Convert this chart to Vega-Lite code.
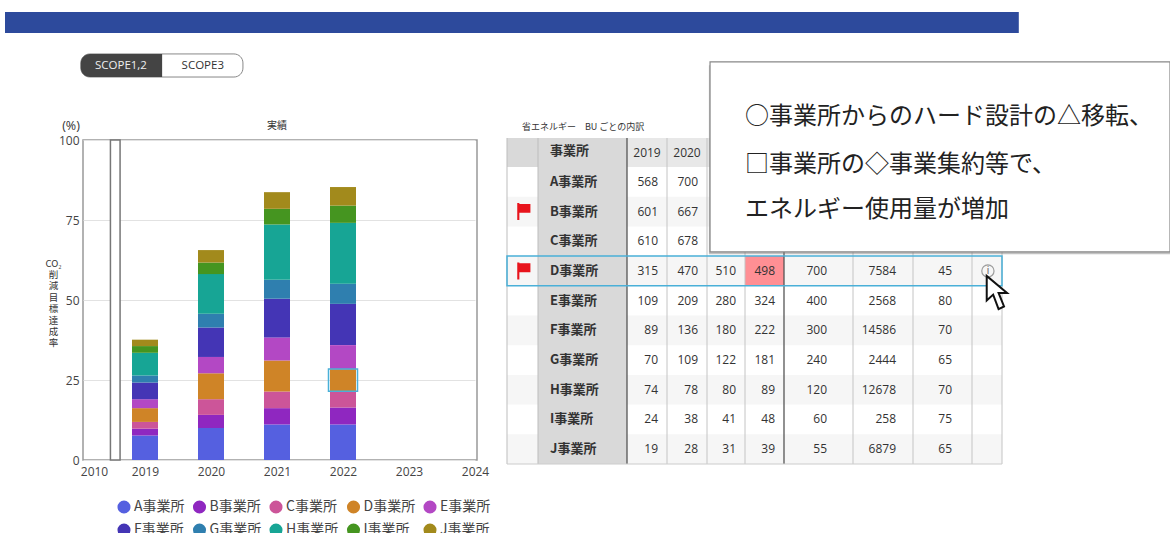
{
"$schema":"https://vega.github.io/schema/vega-lite/v6.json",
"padding":{"left":5,"top":12,"right":0,"bottom":0},
"autosize":{"type":"pad"},
"background":"white",
"bounds":"flush",
"spacing":30,
"config":{"font":"Noto Sans CJK JP","style":{"cell":{"stroke":null}}},
"datasets":{
"bars":[
{"year":2019,"office":"A事業所","value":7.65},{"year":2019,"office":"B事業所","value":2.15},{"year":2019,"office":"C事業所","value":2.1},{"year":2019,"office":"D事業所","value":4.3},{"year":2019,"office":"E事業所","value":2.8},{"year":2019,"office":"F事業所","value":5.2},{"year":2019,"office":"G事業所","value":2.2},{"year":2019,"office":"H事業所","value":7.1},{"year":2019,"office":"I事業所","value":2.1},{"year":2019,"office":"J事業所","value":2.0},
{"year":2020,"office":"A事業所","value":10},{"year":2020,"office":"B事業所","value":4.1},{"year":2020,"office":"C事業所","value":4.9},{"year":2020,"office":"D事業所","value":8.1},{"year":2020,"office":"E事業所","value":5.1},{"year":2020,"office":"F事業所","value":9.2},{"year":2020,"office":"G事業所","value":4.3},{"year":2020,"office":"H事業所","value":12.4},{"year":2020,"office":"I事業所","value":3.6},{"year":2020,"office":"J事業所","value":3.9},
{"year":2021,"office":"A事業所","value":11.1},{"year":2021,"office":"B事業所","value":5.1},{"year":2021,"office":"C事業所","value":5.2},{"year":2021,"office":"D事業所","value":9.7},{"year":2021,"office":"E事業所","value":7.2},{"year":2021,"office":"F事業所","value":12.1},{"year":2021,"office":"G事業所","value":5.9},{"year":2021,"office":"H事業所","value":17.3},{"year":2021,"office":"I事業所","value":4.9},{"year":2021,"office":"J事業所","value":5.2},
{"year":2022,"office":"A事業所","value":11.1},{"year":2022,"office":"B事業所","value":5.3},{"year":2022,"office":"C事業所","value":5.0},{"year":2022,"office":"D事業所","value":7.0},{"year":2022,"office":"E事業所","value":7.5},{"year":2022,"office":"F事業所","value":12.9},{"year":2022,"office":"G事業所","value":6.3},{"year":2022,"office":"H事業所","value":19.0},{"year":2022,"office":"I事業所","value":5.4},{"year":2022,"office":"J事業所","value":5.8}
],
"offices":[
{"office":"A事業所","rowNo":1},{"office":"B事業所","rowNo":2},{"office":"C事業所","rowNo":3},{"office":"D事業所","rowNo":4},{"office":"E事業所","rowNo":5},{"office":"F事業所","rowNo":6},{"office":"G事業所","rowNo":7},{"office":"H事業所","rowNo":8},{"office":"I事業所","rowNo":9},{"office":"J事業所","rowNo":10}
],
"cells":[
{"rowNo":1,"colNo":2,"value":568},{"rowNo":1,"colNo":3,"value":700},
{"rowNo":2,"colNo":2,"value":601},{"rowNo":2,"colNo":3,"value":667},
{"rowNo":3,"colNo":2,"value":610},{"rowNo":3,"colNo":3,"value":678},
{"rowNo":4,"colNo":2,"value":315},{"rowNo":4,"colNo":3,"value":470},{"rowNo":4,"colNo":4,"value":510},{"rowNo":4,"colNo":5,"value":498},{"rowNo":4,"colNo":6,"value":700},{"rowNo":4,"colNo":7,"value":7584},{"rowNo":4,"colNo":8,"value":45},
{"rowNo":5,"colNo":2,"value":109},{"rowNo":5,"colNo":3,"value":209},{"rowNo":5,"colNo":4,"value":280},{"rowNo":5,"colNo":5,"value":324},{"rowNo":5,"colNo":6,"value":400},{"rowNo":5,"colNo":7,"value":2568},{"rowNo":5,"colNo":8,"value":80},
{"rowNo":6,"colNo":2,"value":89},{"rowNo":6,"colNo":3,"value":136},{"rowNo":6,"colNo":4,"value":180},{"rowNo":6,"colNo":5,"value":222},{"rowNo":6,"colNo":6,"value":300},{"rowNo":6,"colNo":7,"value":14586},{"rowNo":6,"colNo":8,"value":70},
{"rowNo":7,"colNo":2,"value":70},{"rowNo":7,"colNo":3,"value":109},{"rowNo":7,"colNo":4,"value":122},{"rowNo":7,"colNo":5,"value":181},{"rowNo":7,"colNo":6,"value":240},{"rowNo":7,"colNo":7,"value":2444},{"rowNo":7,"colNo":8,"value":65},
{"rowNo":8,"colNo":2,"value":74},{"rowNo":8,"colNo":3,"value":78},{"rowNo":8,"colNo":4,"value":80},{"rowNo":8,"colNo":5,"value":89},{"rowNo":8,"colNo":6,"value":120},{"rowNo":8,"colNo":7,"value":12678},{"rowNo":8,"colNo":8,"value":70},
{"rowNo":9,"colNo":2,"value":24},{"rowNo":9,"colNo":3,"value":38},{"rowNo":9,"colNo":4,"value":41},{"rowNo":9,"colNo":5,"value":48},{"rowNo":9,"colNo":6,"value":60},{"rowNo":9,"colNo":7,"value":258},{"rowNo":9,"colNo":8,"value":75},
{"rowNo":10,"colNo":2,"value":19},{"rowNo":10,"colNo":3,"value":28},{"rowNo":10,"colNo":4,"value":31},{"rowNo":10,"colNo":5,"value":39},{"rowNo":10,"colNo":6,"value":55},{"rowNo":10,"colNo":7,"value":6879},{"rowNo":10,"colNo":8,"value":65}
]
},
"hconcat":[
{
"width":394,"height":320,
"view":{"stroke":"#999999","strokeWidth":1.5},
"layer":[
{"data":{"name":"bars"},
"mark":{"type":"bar","size":26,"orient":"vertical"},
"encoding":{
"x":{"field":"year","type":"quantitative","scale":{"domain":[2008,2010,2019,2024],"range":[0,11,62,392],"nice":false,"zero":false,"padding":0},
"axis":{"values":[2010,2019,2020,2021,2022,2023,2024],"format":"d","title":null,"grid":false,"ticks":false,"domain":false,"labelFlush":false,"labelOverlap":false,"labelFont":"Open Sans","labelFontSize":12,"labelColor":"#444444","labelPadding":6}},
"y":{"field":"value","type":"quantitative","stack":"zero","scale":{"domain":[0,100],"nice":false},
"axis":{"values":[0,25,50,75,100],"gridColor":"#e2e2e2","ticks":false,"domain":false,"labelFont":"Open Sans","labelFontSize":12,"labelColor":"#444444","labelPadding":4,
"title":["CO₂","削","減","目","標","達","成","率"],"titleAngle":0,"titleFontSize":9.5,"titleFontWeight":"normal","titleColor":"#333333","titleX":-30,"titleY":118,"titleAlign":"center","titleBaseline":"top","titleLineHeight":11.4}},
"color":{"field":"office","type":"nominal","scale":{"domain":["A事業所","B事業所","C事業所","D事業所","E事業所","F事業所","G事業所","H事業所","I事業所","J事業所"],"range":["#5560E0","#8F27C0","#CC5599","#CF8427","#B348C4","#4435B5","#2F7FAF","#17A595","#459520","#A28A1C"]},
"legend":{"title":null,"orient":"none","legendX":34,"legendY":360,"columns":5,"direction":"horizontal","symbolType":"circle","symbolSize":170,"symbolStrokeWidth":0,"labelFontSize":14,"labelColor":"#444444","labelOffset":3,"columnPadding":7.5,"rowPadding":9,"labelLimit":80,"symbolOpacity":1}},
"order":{"field":"office"}
}},
{"data":{"values":[{}]},"mark":{"type":"rect","fill":"white","stroke":"#777777","strokeWidth":1.5},
"encoding":{"x":{"datum":2012.9,"type":"quantitative"},"x2":{"datum":2014.6},"y":{"datum":0,"type":"quantitative"},"y2":{"datum":100}}},
{"data":{"values":[{}]},"mark":{"type":"bar","size":29,"orient":"vertical","fillOpacity":0,"stroke":"#4AB0D8","strokeWidth":1.5},
"encoding":{"x":{"datum":2022,"type":"quantitative"},"y":{"datum":21.5,"type":"quantitative"},"y2":{"datum":28.4}}},
{"data":{"values":[{"t":"(%)"}]},"mark":{"type":"text","fontSize":12.5,"color":"#333333","dx":-23,"dy":-14,"font":"Open Sans"},
"encoding":{"x":{"datum":2010,"type":"quantitative"},"y":{"datum":100,"type":"quantitative"},"text":{"field":"t"}}},
{"data":{"values":[{"t":"実績"}]},"mark":{"type":"text","fontSize":10,"color":"#333333","dy":-14},
"encoding":{"x":{"datum":2021,"type":"quantitative"},"y":{"datum":100,"type":"quantitative"},"text":{"field":"t"}}}
]
},
{
"width":394,"height":320,
"layer":[
{"data":{"name":"offices"},"transform":[{"filter":"datum.rowNo % 2 == 0"},{"calculate":"datum.rowNo-0.5","as":"top"},{"calculate":"datum.rowNo+0.5","as":"bottom"}],
"mark":{"type":"rect","fill":"#f6f6f6"},
"encoding":{"x":{"datum":0,"type":"quantitative","axis":null,"scale":{"domain":[-1,0,1,2,3,4,5,6,7,8,9,10,11],"range":[-502,0,31,120,160,200,238,277,346,406,465,495,663],"nice":false,"zero":false}},"x2":{"datum":10},
"y":{"field":"top","type":"quantitative","axis":null,"scale":{"domain":[-6,-0.5,0.5,10.5],"range":[-140,-2,27,324],"nice":false,"zero":false}},"y2":{"field":"bottom"}}},
{"data":{"values":[{}]},"mark":{"type":"rect","fill":"#d9d9d9"},"encoding":{"x":{"datum":1,"type":"quantitative","axis":null},"x2":{"datum":2},"y":{"datum":-0.5,"type":"quantitative","axis":null},"y2":{"datum":10.5}}},
{"data":{"values":[{}]},"mark":{"type":"rect","fill":"#d9d9d9"},"encoding":{"x":{"datum":0,"type":"quantitative","axis":null},"x2":{"datum":1},"y":{"datum":-0.5,"type":"quantitative","axis":null},"y2":{"datum":0.5}}},
{"data":{"values":[{}]},"mark":{"type":"rect","fill":"#e8e8e8"},"encoding":{"x":{"datum":2,"type":"quantitative","axis":null},"x2":{"datum":10},"y":{"datum":-0.5,"type":"quantitative","axis":null},"y2":{"datum":0.5}}},
{"data":{"values":[{}]},"mark":{"type":"rect","fill":"#FF8F94"},"encoding":{"x":{"datum":5,"type":"quantitative","axis":null},"x2":{"datum":6},"y":{"datum":3.5,"type":"quantitative","axis":null},"y2":{"datum":4.5}}},
{"data":{"values":[{"c":3},{"c":4},{"c":5},{"c":7},{"c":8},{"c":9},{"c":10}]},"mark":{"type":"rule","color":"#c4c4c4","strokeWidth":1},"encoding":{"x":{"field":"c","type":"quantitative","axis":null},"y":{"datum":-0.5,"type":"quantitative","axis":null},"y2":{"datum":10.5}}},
{"data":{"values":[{"c":0},{"c":1}]},"mark":{"type":"rule","color":"#bdbdbd","strokeWidth":1},"encoding":{"x":{"field":"c","type":"quantitative","axis":null},"y":{"datum":-0.5,"type":"quantitative","axis":null},"y2":{"datum":10.5}}},
{"data":{"values":[{"c":2},{"c":6}]},"mark":{"type":"rule","color":"#555555","strokeWidth":1.3},"encoding":{"x":{"field":"c","type":"quantitative","axis":null},"y":{"datum":-0.5,"type":"quantitative","axis":null},"y2":{"datum":10.5}}},
{"data":{"values":[{}]},"mark":{"type":"rule","color":"#cccccc","strokeWidth":1},"encoding":{"x":{"datum":0,"type":"quantitative","axis":null},"x2":{"datum":10},"y":{"datum":10.5,"type":"quantitative","axis":null}}},
{"data":{"name":"offices"},"mark":{"type":"text","align":"left","fontSize":13,"fontWeight":"bold","color":"#333333","dx":12},
"encoding":{"x":{"datum":1,"type":"quantitative","axis":null},"y":{"field":"rowNo","type":"quantitative","axis":null},"text":{"field":"office"}}},
{"data":{"values":[{"t":"事業所"}]},"mark":{"type":"text","align":"left","fontSize":13,"fontWeight":"bold","color":"#333333","dx":12,"dy":-2},
"encoding":{"x":{"datum":1,"type":"quantitative","axis":null},"y":{"datum":0,"type":"quantitative","axis":null},"text":{"field":"t"}}},
{"data":{"values":[{"t":"2019","c":2.5},{"t":"2020","c":3.5}]},"mark":{"type":"text","fontSize":12,"font":"Open Sans","color":"#333333"},
"encoding":{"x":{"field":"c","type":"quantitative","axis":null},"y":{"datum":0,"type":"quantitative","axis":null},"text":{"field":"t"}}},
{"data":{"name":"cells"},"transform":[{"filter":"datum.colNo < 6"},{"calculate":"datum.colNo+1","as":"edge"}],"mark":{"type":"text","align":"right","dx":-9,"fontSize":12,"font":"Open Sans","color":"#333333"},
"encoding":{"x":{"field":"edge","type":"quantitative","axis":null},"y":{"field":"rowNo","type":"quantitative","axis":null},"text":{"field":"value"}}},
{"data":{"name":"cells"},"transform":[{"filter":"datum.colNo == 6"},{"calculate":"datum.colNo+1","as":"edge"}],"mark":{"type":"text","align":"right","dx":-26,"fontSize":12,"font":"Open Sans","color":"#333333"},
"encoding":{"x":{"field":"edge","type":"quantitative","axis":null},"y":{"field":"rowNo","type":"quantitative","axis":null},"text":{"field":"value"}}},
{"data":{"name":"cells"},"transform":[{"filter":"datum.colNo == 7"},{"calculate":"datum.colNo+1","as":"edge"}],"mark":{"type":"text","align":"right","dx":-17,"fontSize":12,"font":"Open Sans","color":"#333333"},
"encoding":{"x":{"field":"edge","type":"quantitative","axis":null},"y":{"field":"rowNo","type":"quantitative","axis":null},"text":{"field":"value"}}},
{"data":{"name":"cells"},"transform":[{"filter":"datum.colNo == 8"},{"calculate":"datum.colNo+1","as":"edge"}],"mark":{"type":"text","align":"right","dx":-20,"fontSize":12,"font":"Open Sans","color":"#333333"},
"encoding":{"x":{"field":"edge","type":"quantitative","axis":null},"y":{"field":"rowNo","type":"quantitative","axis":null},"text":{"field":"value"}}},
{"data":{"name":"offices"},"transform":[{"filter":"datum.rowNo == 2 || datum.rowNo == 4"}],"mark":{"type":"point","filled":true,"fill":"#E8141C","opacity":1,"strokeWidth":0,"size":289,"shape":"M-0.8,-1 L-0.55,-1 L-0.55,-0.9 L0.75,-0.9 L0.75,0.15 L-0.55,0.15 L-0.55,1 L-0.8,1 Z"},
"encoding":{"x":{"datum":0.55,"type":"quantitative","axis":null},"y":{"field":"rowNo","type":"quantitative","axis":null}}},
{"data":{"values":[{}]},"mark":{"type":"rect","fillOpacity":0,"stroke":"#4AB0D8","strokeWidth":1.5},"encoding":{"x":{"datum":0,"type":"quantitative","axis":null},"x2":{"datum":10},"y":{"datum":3.5,"type":"quantitative","axis":null},"y2":{"datum":4.5}}},
{"data":{"values":[{}]},"mark":{"type":"point","filled":false,"stroke":"#777777","strokeWidth":1.2,"size":150,"shape":"circle"},"encoding":{"x":{"datum":9.53,"type":"quantitative","axis":null},"y":{"datum":4,"type":"quantitative","axis":null}}},
{"data":{"values":[{"t":"i"}]},"mark":{"type":"text","fontSize":11,"color":"#777777"},"encoding":{"x":{"datum":9.53,"type":"quantitative","axis":null},"y":{"datum":4,"type":"quantitative","axis":null},"text":{"field":"t"}}},
{"data":{"values":[{}]},"mark":{"type":"point","filled":true,"fill":"white","stroke":"#111111","strokeWidth":2,"opacity":1,"size":1150,"shape":"M-0.6,-1 L-0.6,0.45 L-0.22,0.1 L0.1,0.95 L0.42,0.8 L0.1,0 L0.6,0 Z"},"encoding":{"x":{"datum":9.83,"type":"quantitative","axis":null},"y":{"datum":4.74,"type":"quantitative","axis":null}}},
{"data":{"values":[{"t":"省エネルギー　BU ごとの内訳"}]},"mark":{"type":"text","align":"left","fontSize":9,"color":"#333333"},"encoding":{"x":{"datum":0.48,"type":"quantitative","axis":null},"y":{"datum":-0.94,"type":"quantitative","axis":null},"text":{"field":"t"}}},
{"data":{"values":[{}]},"mark":{"type":"rect","fill":"#777777","opacity":0.45},"encoding":{"x":{"datum":4.05,"type":"quantitative","axis":null},"x2":{"datum":11},"y":{"datum":-3.4,"type":"quantitative","axis":null},"y2":{"datum":3.44}}},
{"data":{"values":[{}]},"mark":{"type":"rect","fill":"white","stroke":"#888888","strokeWidth":1.2},"encoding":{"x":{"datum":4.08,"type":"quantitative","axis":null},"x2":{"datum":11},"y":{"datum":-3.53,"type":"quantitative","axis":null},"y2":{"datum":3.36}}},
{"data":{"values":[{"t":"○事業所からのハード設計の△移転、"}]},"mark":{"type":"text","align":"left","fontSize":24,"color":"#222222"},"encoding":{"x":{"datum":5,"type":"quantitative","axis":null},"y":{"datum":-1.34,"type":"quantitative","axis":null},"text":{"field":"t"}}},
{"data":{"values":[{"t":"□事業所の◇事業集約等で、"}]},"mark":{"type":"text","align":"left","fontSize":24,"color":"#222222"},"encoding":{"x":{"datum":5,"type":"quantitative","axis":null},"y":{"datum":0.43,"type":"quantitative","axis":null},"text":{"field":"t"}}},
{"data":{"values":[{"t":"エネルギー使用量が増加"}]},"mark":{"type":"text","align":"left","fontSize":24,"color":"#222222"},"encoding":{"x":{"datum":5,"type":"quantitative","axis":null},"y":{"datum":1.95,"type":"quantitative","axis":null},"text":{"field":"t"}}},
{"data":{"values":[{}]},"mark":{"type":"rect","fill":"#2D4A9C"},"encoding":{"x":{"datum":-1,"type":"quantitative","axis":null},"x2":{"datum":10.1},"y":{"datum":-5.52,"type":"quantitative","axis":null},"y2":{"datum":-4.68}}},
{"data":{"values":[{}]},"mark":{"type":"rect","fill":"white","stroke":"#888888","strokeWidth":1,"cornerRadius":9},"encoding":{"x":{"datum":-0.849,"type":"quantitative","axis":null},"x2":{"datum":-0.526},"y":{"datum":-3.85,"type":"quantitative","axis":null},"y2":{"datum":-2.93}}},
{"data":{"values":[{}]},"mark":{"type":"rect","fill":"#444444","cornerRadiusTopLeft":9,"cornerRadiusBottomLeft":9},"encoding":{"x":{"datum":-0.849,"type":"quantitative","axis":null},"x2":{"datum":-0.687},"y":{"datum":-3.85,"type":"quantitative","axis":null},"y2":{"datum":-2.93}}},
{"data":{"values":[{"t":"SCOPE1,2"}]},"mark":{"type":"text","fontSize":11.5,"font":"Open Sans","color":"#eeeeee"},"encoding":{"x":{"datum":-0.769,"type":"quantitative","axis":null},"y":{"datum":-3.37,"type":"quantitative","axis":null},"text":{"field":"t"}}},
{"data":{"values":[{"t":"SCOPE3"}]},"mark":{"type":"text","fontSize":11.5,"font":"Open Sans","color":"#333333"},"encoding":{"x":{"datum":-0.606,"type":"quantitative","axis":null},"y":{"datum":-3.37,"type":"quantitative","axis":null},"text":{"field":"t"}}}
]
}
]
}
